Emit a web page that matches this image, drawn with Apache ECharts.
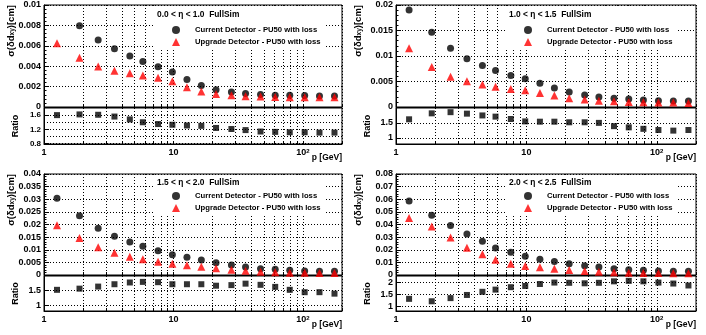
<!DOCTYPE html>
<html>
<head>
<meta charset="utf-8">
<title>sigma(d_xy) vs p</title>
<script src="https://cdn.jsdelivr.net/npm/echarts@6/dist/echarts.min.js"></script>
<style>
  html, body { margin: 0; padding: 0; background: #fff; }
  #chart { width: 706px; height: 335px; }
</style>
</head>
<body>
<div id="chart"></div>
<script>
// ---- data ----
// momentum bin centres [GeV]
const pValues = [1.26, 1.88, 2.62, 3.5, 4.6, 5.8, 7.6, 9.8, 12.7, 16.4, 21.3, 28, 36, 47, 61, 79, 103, 134, 175]

const etaLabels = [
  '0.0 < η < 1.0  FullSim',
  '1.0 < η < 1.5  FullSim',
  '1.5 < η < 2.0  FullSim',
  '2.0 < η < 2.5  FullSim',
]
const currentName = 'Current Detector - PU50 with loss'
const upgradeName = 'Upgrade Detector - PU50 with loss'

// sigma(d_xy) [cm], current detector (first point of eta 0-1 is off scale)
const current1 = [null, 0.00796, 0.00658, 0.00572, 0.0050, 0.00447, 0.00395, 0.00342, 0.0027, 0.0021, 0.00168, 0.00148, 0.00132, 0.00122, 0.00115, 0.00115, 0.00112, 0.00109, 0.00109]
const current2 = [0.0190, 0.01467, 0.01151, 0.00947, 0.00816, 0.00717, 0.00618, 0.00553, 0.00467, 0.00375, 0.00296, 0.00237, 0.00197, 0.00171, 0.00158, 0.00138, 0.00125, 0.00118, 0.00118]
const current3 = [0.0304, 0.0235, 0.0185, 0.0153, 0.0131, 0.01135, 0.00964, 0.00805, 0.0070, 0.00594, 0.00488, 0.00396, 0.00317, 0.00251, 0.00224, 0.00185, 0.00158, 0.00145, 0.00145]
const current4 = [0.0586, 0.0473, 0.0393, 0.0325, 0.0267, 0.0214, 0.0180, 0.0148, 0.0124, 0.0106, 0.0090, 0.0074, 0.0063, 0.0050, 0.0042, 0.0037, 0.0032, 0.0029, 0.0029]

// sigma(d_xy) [cm], upgrade detector
const upgrade1 = [0.00625, 0.00484, 0.00398, 0.00355, 0.00332, 0.00309, 0.00286, 0.00253, 0.00194, 0.00151, 0.00128, 0.00115, 0.00105, 0.00102, 0.00099, 0.00095, 0.00095, 0.00095, 0.00095]
const upgrade2 = [0.01151, 0.00783, 0.00592, 0.00507, 0.00441, 0.00395, 0.00355, 0.00329, 0.00276, 0.00224, 0.00171, 0.00145, 0.00125, 0.00112, 0.00099, 0.00092, 0.00086, 0.00086, 0.00079]
const upgrade3 = [0.0197, 0.01465, 0.01096, 0.00884, 0.00726, 0.0062, 0.00528, 0.00449, 0.00383, 0.0033, 0.00264, 0.00211, 0.00172, 0.00132, 0.00106, 0.00092, 0.00092, 0.00079, 0.00079]
const upgrade4 = [0.0451, 0.0385, 0.0298, 0.0216, 0.0164, 0.0121, 0.0090, 0.0071, 0.0061, 0.0050, 0.0040, 0.0032, 0.0026, 0.0021, 0.0018, 0.0016, 0.0016, 0.0013, 0.0013]

// current / upgrade
const ratio1 = [1.60, 1.62, 1.61, 1.56, 1.48, 1.40, 1.35, 1.33, 1.31, 1.30, 1.24, 1.21, 1.18, 1.14, 1.13, 1.12, 1.12, 1.11, 1.11]
const ratio2 = [1.62, 1.82, 1.86, 1.81, 1.75, 1.71, 1.63, 1.55, 1.54, 1.54, 1.52, 1.52, 1.50, 1.39, 1.35, 1.30, 1.26, 1.24, 1.26]
const ratio3 = [1.53, 1.57, 1.64, 1.72, 1.78, 1.80, 1.79, 1.72, 1.72, 1.72, 1.67, 1.69, 1.74, 1.70, 1.63, 1.53, 1.45, 1.45, 1.40]
const ratio4 = [1.31, 1.21, 1.34, 1.47, 1.60, 1.69, 1.79, 1.84, 1.92, 1.98, 1.97, 1.95, 1.97, 2.03, 2.05, 2.03, 1.98, 1.94, 1.86]

// axis ticks
const xGridValues = [1, 2, 3, 4, 5, 6, 7, 8, 9, 10, 20, 30, 40, 50, 60, 70, 80, 90, 100, 200]
const xLabelValues = [1, 10, 100]
const mainMax = [0.01, 0.02, 0.04, 0.08]
const mainStep = [0.002, 0.005, 0.005, 0.01]
const ratioTicks = [[0.8, 1, 1.2, 1.4, 1.6], [1, 1.5], [1, 1.5], [1, 1.5, 2]]
const ratioRange = [[0.79, 1.8], [0.79, 2.0], [0.81, 2.0], [0.81, 2.25]]

const currents = [current1, current2, current3, current4]
const upgrades = [upgrade1, upgrade2, upgrade3, upgrade4]
const ratios = [ratio1, ratio2, ratio3, ratio4]

// ---- layout (pixels) ----
const layout = [
  { left: 44, width: 298, top: 5, mainH: 102, ratioH: 36, legPad: 20, titleDy: 6, ytitleDx: 33 },
  { left: 396, width: 300, top: 5, mainH: 102, ratioH: 36, legPad: 20, titleDy: 6, ytitleDx: 38 },
  { left: 44, width: 298, top: 174, mainH: 101, ratioH: 35, legPad: 17, titleDy: 5, ytitleDx: 33 },
  { left: 396, width: 300, top: 174, mainH: 101, ratioH: 35, legPad: 17, titleDy: 5, ytitleDx: 38 },
]

const font = "'Liberation Sans', Arial, Helvetica, sans-serif"
const black = '#000'
const dotted = { color: black, width: 1, type: [1, 2] }

function pairs(ys) {
  return pValues.map((p, k) => [p, ys[k]]).filter((d) => d[1] != null)
}

function logAxis(gridIndex, withLabels) {
  return {
    type: 'log',
    logBase: 10,
    gridIndex,
    min: 1,
    max: 200,
    axisLine: { show: true, onZero: false, lineStyle: { color: black } },
    axisTick: { show: true, inside: true, length: 3, customValues: xGridValues, lineStyle: { color: black } },
    splitLine: { show: true, lineStyle: dotted },
    axisLabel: withLabels
      ? {
          show: true,
          customValues: xLabelValues,
          margin: 4,
          formatter: (v) => (v >= 100 ? '{b|10}{s|2}' : '{b|' + v + '}'),
          rich: {
            b: { fontSize: 9, fontWeight: 'bold', color: black, fontFamily: font },
            s: { fontSize: 6, fontWeight: 'bold', color: black, fontFamily: font, verticalAlign: 'top' },
          },
        }
      : { show: false },
  }
}

const grids = [], xAxes = [], yAxes = [], series = [], legends = [], titles = [], graphics = []

layout.forEach((L, i) => {
  const ratioTop = L.top + L.mainH + 1
  grids.push({ left: L.left, top: L.top, width: L.width, height: L.mainH, show: true, borderColor: black, borderWidth: 1 })
  grids.push({ left: L.left, top: ratioTop, width: L.width, height: L.ratioH, show: true, borderColor: black, borderWidth: 1 })

  xAxes.push(logAxis(2 * i, false))
  xAxes.push(logAxis(2 * i + 1, true))

  // main pad
  yAxes.push({
    type: 'value',
    gridIndex: 2 * i,
    min: 0,
    max: mainMax[i],
    interval: mainStep[i],
    axisLine: { show: true, lineStyle: { color: black } },
    axisTick: { show: true, inside: true, length: 5, lineStyle: { color: black } },
    minorTick: { show: true, splitNumber: 5, length: 2.5, lineStyle: { color: black } },
    splitLine: { show: true, lineStyle: dotted },
    axisLabel: { fontSize: 9, fontWeight: 'bold', color: black, fontFamily: font, margin: 3, hideOverlap: false },
  })
  // ratio pad
  yAxes.push({
    type: 'value',
    gridIndex: 2 * i + 1,
    min: ratioRange[i][0],
    max: ratioRange[i][1],
    name: 'Ratio',
    nameLocation: 'middle',
    nameGap: 24,
    nameTextStyle: { fontSize: 9, fontWeight: 'bold', color: black, fontFamily: font },
    axisLine: { show: true, lineStyle: { color: black } },
    axisTick: { show: true, inside: true, length: 5, customValues: ratioTicks[i], lineStyle: { color: black } },
    splitLine: { show: true, lineStyle: dotted },
    axisLabel: {
      customValues: ratioTicks[i],
      fontSize: i === 0 ? 8 : 9,
      lineHeight: 7,
      fontWeight: 'bold',
      color: black,
      fontFamily: font,
      margin: 3,
      hideOverlap: false,
      showMinLabel: true,
      showMaxLabel: true,
    },
  })

  series.push({
    type: 'scatter',
    name: currentName,
    xAxisIndex: 2 * i,
    yAxisIndex: 2 * i,
    data: pairs(currents[i]),
    symbol: 'circle',
    symbolSize: 7,
    itemStyle: { color: black },
  })
  series.push({
    type: 'scatter',
    name: upgradeName,
    xAxisIndex: 2 * i,
    yAxisIndex: 2 * i,
    data: pairs(upgrades[i]),
    symbol: 'triangle',
    symbolSize: 8,
    itemStyle: { color: '#ff0000' },
  })
  series.push({
    type: 'scatter',
    name: 'ratio' + (i + 1),
    xAxisIndex: 2 * i + 1,
    yAxisIndex: 2 * i + 1,
    data: pairs(ratios[i]),
    symbol: 'rect',
    symbolSize: 6,
    itemStyle: { color: black },
  })

  // white legend box hides the grid behind it
  legends.push({
    left: L.left + 109,
    top: L.top + 1,
    orient: 'vertical',
    padding: [L.legPad, 4, 2, 19],
    itemWidth: 8,
    itemHeight: 8,
    itemGap: 4,
    symbolKeepAspect: true,
    backgroundColor: '#fff',
    selectedMode: false,
    data: [
      { name: currentName, icon: 'circle' },
      { name: upgradeName, icon: 'triangle' },
    ],
    textStyle: { fontSize: 7.7, fontWeight: 'bold', color: black, fontFamily: font, padding: [0, 0, 0, 10] },
  })
  titles.push({
    text: etaLabels[i],
    left: L.left + 113,
    top: L.top + L.titleDy,
    padding: 0,
    textStyle: { fontSize: 8.4, fontWeight: 'bold', color: black, fontFamily: font },
  })

  graphics.push({
    type: 'text',
    x: L.left - L.ytitleDx,
    y: L.top,
    rotation: Math.PI / 2,
    style: {
      text: '{a|σ(δd}{s|xy}{a|)[cm]}',
      align: 'right',
      verticalAlign: 'middle',
      rich: {
        a: { fontSize: 9.5, fontWeight: 'bold', fill: black, fontFamily: font },
        s: { fontSize: 6.5, fontWeight: 'bold', fill: black, fontFamily: font, verticalAlign: 'bottom' },
      },
    },
  })
  graphics.push({
    type: 'text',
    x: L.left + L.width,
    y: ratioTop + L.ratioH + 14,
    style: {
      text: 'p [GeV]',
      align: 'right',
      verticalAlign: 'middle',
      fontSize: 8.5,
      fontWeight: 'bold',
      fill: black,
      fontFamily: font,
    },
  })
})

const chart = echarts.init(document.getElementById('chart'))
chart.setOption({
  animation: false,
  backgroundColor: '#fff',
  textStyle: { fontFamily: font },
  title: titles,
  legend: legends,
  grid: grids,
  xAxis: xAxes,
  yAxis: yAxes,
  series,
  graphic: graphics,
})
</script>
</body>
</html>
